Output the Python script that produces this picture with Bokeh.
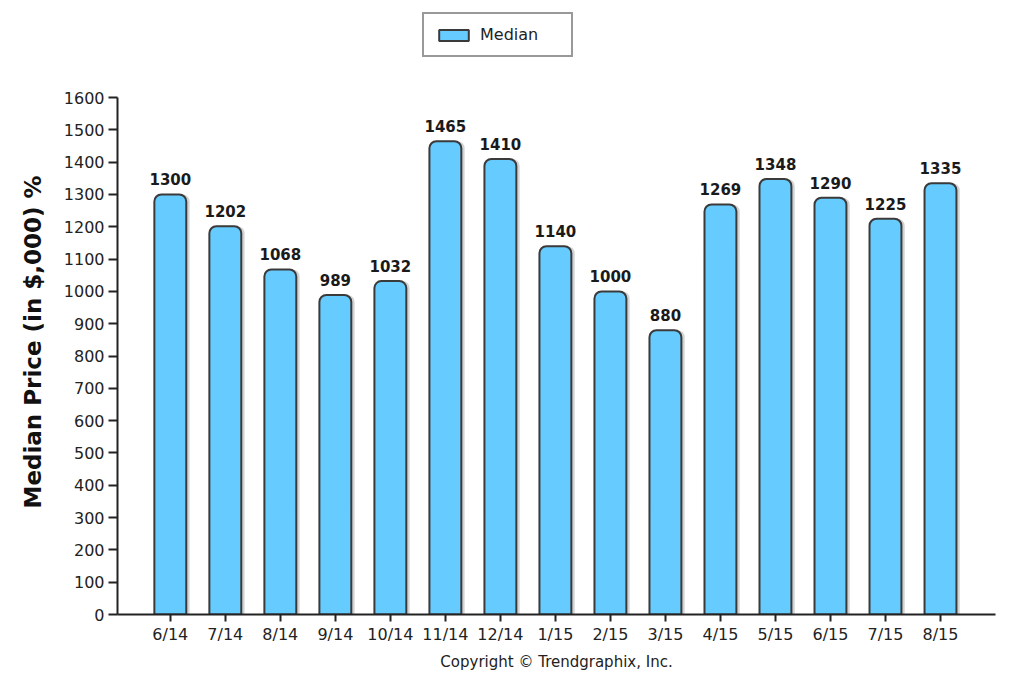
from bokeh.plotting import figure
from bokeh.models import ColumnDataSource, FixedTicker, Range1d, Legend, LegendItem, Title
from bokeh.core.properties import value
from bokeh.transform import dodge
from bokeh.embed import file_html
from bokeh.resources import INLINE

months = ["6/14", "7/14", "8/14", "9/14", "10/14", "11/14", "12/14", "1/15",
          "2/15", "3/15", "4/15", "5/15", "6/15", "7/15", "8/15"]
median = [1300, 1202, 1068, 989, 1032, 1465, 1410, 1140, 1000, 880,
          1269, 1348, 1290, 1225, 1335]
y_ticks = list(range(0, 1700, 100))

xs = list(range(len(months)))
src = ColumnDataSource(dict(x=xs, y=median, lab=[str(v) for v in median]))

p = figure(width=1008, height=677, output_backend="svg", toolbar_location=None,
           x_range=Range1d(-0.96, 15.0), y_range=Range1d(0, 1888),
           min_border_left=117, min_border_right=13, min_border_top=4,
           min_border_bottom=63)
p.outline_line_color = None
p.xgrid.visible = False
p.ygrid.visible = False

# shadow
p.vbar(x=dodge("x", 0.06), top="y", width=0.58, source=src,
       fill_color="#c8c8c8", line_color=None, fill_alpha=0.8,
       border_radius=(7, 7, 0, 0))
bars = p.vbar(x="x", top="y", width=0.58, source=src, fill_color="#66CCFF",
              line_color="#3a3a3a", line_width=2, border_radius=(7, 7, 0, 0))

p.text(x="x", y="y", text="lab", source=src, text_align="center",
       text_baseline="bottom", y_offset=-9, text_font_size="15px",
       text_font_style="bold", text_color="#1a1a1a",
       text_font=value("DejaVu Sans"))

p.xaxis.ticker = FixedTicker(ticks=xs)
p.xaxis.major_label_overrides = {i: m for i, m in enumerate(months)}
p.yaxis.ticker = FixedTicker(ticks=y_ticks)
p.yaxis.bounds = (0, 1600)
for ax in (p.xaxis[0], p.yaxis[0]):
    ax.axis_line_color = "#222222"
    ax.axis_line_width = 2
    ax.major_tick_line_color = "#222222"
    ax.major_tick_line_width = 2
    ax.major_tick_out = 9
    ax.major_tick_in = 0
    ax.minor_tick_line_color = None
    ax.major_label_text_font = "DejaVu Sans"
    ax.major_label_text_font_size = "16px"
    ax.major_label_text_color = "#222222"
p.xaxis.major_tick_out = 7
p.xaxis.major_label_standoff = 3
p.yaxis.major_label_standoff = 4

ylab = Title(text="Median Price (in $,000) %", align="left", offset=106,
             text_font="DejaVu Sans", text_font_style="bold",
             text_font_size="23px", text_color="#111111", standoff=30)
p.add_layout(ylab, "left")

legend = Legend(items=[LegendItem(label="Median", renderers=[bars])],
                location=(305, 557), orientation="horizontal",
                label_text_font="DejaVu Sans", label_text_font_size="16px",
                label_text_color="#222222", border_line_color="#333333",
                border_line_width=2, glyph_width=37, glyph_height=14,
                padding=11, margin=0, label_standoff=8, label_width=80)
p.add_layout(legend, "center")

cr = Title(text="Copyright \u00a9 Trendgraphix, Inc.", align="center",
           text_font="DejaVu Sans", text_font_size="15px",
           text_font_style="normal", text_color="#222222", standoff=8)
p.add_layout(cr, "below")

open("out.html", "w").write(file_html(p, INLINE))
